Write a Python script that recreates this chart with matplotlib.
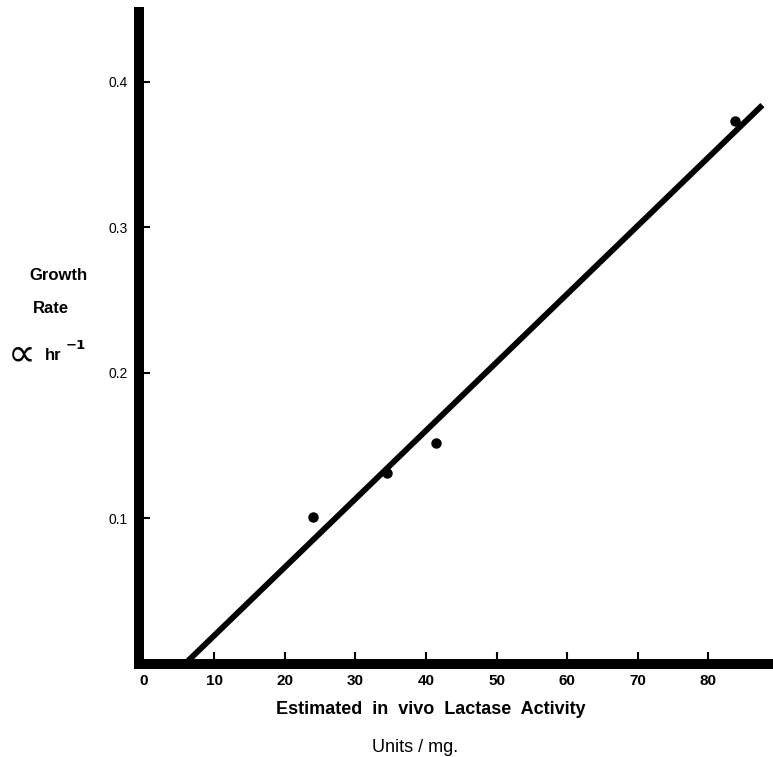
import matplotlib.pyplot as plt

# data
activity = [24.0, 34.5, 41.4, 83.8]
growth_rate = [0.101, 0.131, 0.152, 0.373]
fit_x = [5.8, 87.7]
fit_y = [0.0, 0.384]

x_ticks = [0, 10, 20, 30, 40, 50, 60, 70, 80]
x_tick_labels = ['0', '10', '20', '30', '40', '50', '60', '70', '80']
y_ticks = [0.1, 0.2, 0.3, 0.4]
y_tick_labels = ['0.1', '0.2', '0.3', '0.4']

plt.rcParams['font.family'] = ['Liberation Sans', 'DejaVu Sans']

fig = plt.figure(figsize=(7.73, 7.57), dpi=100)
ax = fig.add_axes([0.1798, 0.1229, 0.8202, 0.8613])

ax.plot(fit_x, fit_y, color='black', lw=4.2, solid_capstyle='butt', clip_on=False)
ax.plot(activity, growth_rate, 'o', color='black', ms=6.5)

ax.set_xlim(-0.7, 89.2)
ax.set_ylim(0, 0.448)

for side in ['top', 'right']:
    ax.spines[side].set_visible(False)
for side in ['left', 'bottom']:
    ax.spines[side].set_linewidth(7.2)
    ax.spines[side].set_capstyle('projecting')

ax.set_xticks(x_ticks)
ax.set_xticklabels(x_tick_labels, fontsize=11, fontweight='bold')
ax.set_yticks(y_ticks)
ax.set_yticklabels(y_tick_labels, fontsize=10)
ax.tick_params(axis='x', direction='in', length=8.6, width=1.5, pad=7.5)
ax.tick_params(axis='y', direction='in', length=8, width=1.5, pad=8)
ax.xaxis.get_major_ticks()[0].tick1line.set_visible(False)

# y label, drawn as separate lines like the original
fig.text(58 / 773, 1 - 276 / 757, 'Growth', fontsize=12, fontweight='bold',
         ha='center', va='center')
fig.text(51 / 773, 1 - 309 / 757, 'Rate', fontsize=12, fontweight='bold',
         ha='center', va='center')
fig.text(22 / 773, 1 - 354 / 757, '\u221d', fontsize=28, ha='center', va='center',
         family=['DejaVu Sans'])
fig.text(53 / 773, 1 - 355 / 757, 'hr', fontsize=12, fontweight='bold',
         ha='center', va='center')
fig.text(76 / 773, 1 - 345 / 757, '\u22121', fontsize=9.5, fontweight='bold',
         ha='center', va='center', family=['DejaVu Sans'])

fig.text(431 / 773, 1 - 710 / 757, 'Estimated  in  vivo  Lactase  Activity',
         fontsize=13, fontweight='bold', ha='center', va='center')
fig.text(415 / 773, 1 - 747 / 757, 'Units / mg.', fontsize=13,
         ha='center', va='center')

fig.savefig('out.png', dpi=100)
